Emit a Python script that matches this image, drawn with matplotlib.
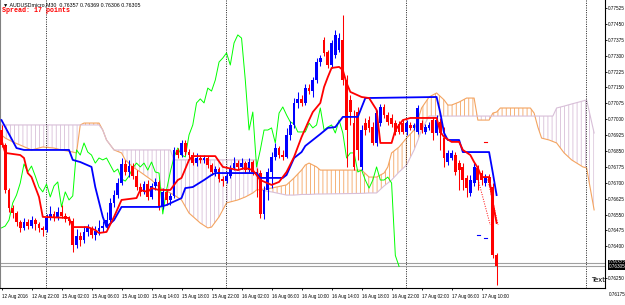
import matplotlib.pyplot as plt
import matplotlib.transforms as mtransforms
from matplotlib import font_manager
import numpy as np

# AUDUSDmicro M30, barra 0 = 12 Aug 2016 18:00
opens = [
    0.76949, 0.76878, 0.76666, 0.76581, 0.76557, 0.76515, 0.76487, 0.76515, 0.76496, 0.76524,
    0.76506, 0.76487, 0.76477, 0.76534, 0.76553, 0.76534, 0.76562, 0.76543, 0.76529, 0.76520,
    0.76406, 0.76449, 0.76430, 0.76468, 0.76487, 0.76454, 0.76472, 0.76487, 0.76496, 0.76524,
    0.76605, 0.76642, 0.76699, 0.76789, 0.76751, 0.76779, 0.76732, 0.76680, 0.76657, 0.76694,
    0.76633, 0.76685, 0.76704, 0.76586, 0.76657, 0.76619, 0.76638, 0.76855, 0.76831, 0.76888,
    0.76845, 0.76831, 0.76793, 0.76817, 0.76808, 0.76817, 0.76784, 0.76751, 0.76765, 0.76718,
    0.76708, 0.76732, 0.76770, 0.76793, 0.76775, 0.76793, 0.76760, 0.76798, 0.76751, 0.76746,
    0.76553, 0.76666, 0.76751, 0.76822, 0.76864, 0.76831, 0.76822, 0.76926, 0.76973, 0.77077,
    0.77096, 0.77077, 0.77147, 0.77133, 0.77185, 0.77270, 0.77374, 0.77317, 0.77256, 0.77303,
    0.77327, 0.77374, 0.77185, 0.77091, 0.76982, 0.77034, 0.76775, 0.76982, 0.76996, 0.76963,
    0.76888, 0.76982, 0.77058, 0.77020, 0.77006, 0.76982, 0.76978, 0.76982, 0.76940, 0.76973,
    0.76959, 0.76940, 0.76982, 0.76940, 0.76959, 0.76996, 0.76935, 0.76987, 0.76911, 0.76798,
    0.76817, 0.76831, 0.76793, 0.76775, 0.76723, 0.76652, 0.76699, 0.76770, 0.76746, 0.76699,
    0.76727, 0.76680, 0.76357]
closes = [
    0.76878, 0.76666, 0.76581, 0.76557, 0.76515, 0.76487, 0.76515, 0.76496, 0.76524, 0.76506,
    0.76487, 0.76477, 0.76534, 0.76553, 0.76534, 0.76562, 0.76543, 0.76529, 0.76520, 0.76406,
    0.76449, 0.76430, 0.76468, 0.76487, 0.76454, 0.76472, 0.76487, 0.76496, 0.76524, 0.76605,
    0.76642, 0.76699, 0.76789, 0.76751, 0.76779, 0.76732, 0.76680, 0.76657, 0.76694, 0.76633,
    0.76685, 0.76704, 0.76586, 0.76657, 0.76619, 0.76638, 0.76855, 0.76831, 0.76888, 0.76845,
    0.76831, 0.76793, 0.76817, 0.76808, 0.76817, 0.76784, 0.76751, 0.76765, 0.76718, 0.76708,
    0.76732, 0.76770, 0.76793, 0.76775, 0.76793, 0.76760, 0.76798, 0.76751, 0.76746, 0.76553,
    0.76666, 0.76751, 0.76822, 0.76864, 0.76831, 0.76822, 0.76926, 0.76973, 0.77077, 0.77096,
    0.77077, 0.77147, 0.77133, 0.77185, 0.77270, 0.77289, 0.77313, 0.77256, 0.77360, 0.77398,
    0.77383, 0.77185, 0.76949, 0.77034, 0.76775, 0.76855, 0.76949, 0.76949, 0.76959, 0.76888,
    0.77029, 0.77058, 0.77020, 0.76987, 0.76978, 0.76940, 0.76940, 0.76940, 0.76982, 0.76959,
    0.76973, 0.77053, 0.76949, 0.76963, 0.76973, 0.76935, 0.76996, 0.76935, 0.76817, 0.76841,
    0.76841, 0.76751, 0.76760, 0.76713, 0.76675, 0.76713, 0.76775, 0.76713, 0.76713, 0.76727,
    0.76699, 0.76357, 0.76305]
highs = [
    0.76973, 0.76888, 0.76675, 0.76595, 0.76567, 0.76524, 0.76534, 0.76529, 0.76543, 0.76534,
    0.76515, 0.76496, 0.76553, 0.76590, 0.76567, 0.76586, 0.76595, 0.76557, 0.76543, 0.76534,
    0.76482, 0.76468, 0.76496, 0.76506, 0.76496, 0.76496, 0.76524, 0.76520, 0.76562, 0.76628,
    0.76666, 0.76723, 0.76817, 0.76808, 0.76808, 0.76793, 0.76760, 0.76699, 0.76708, 0.76713,
    0.76699, 0.76723, 0.76713, 0.76675, 0.76666, 0.76652, 0.76869, 0.76864, 0.76902, 0.76902,
    0.76860, 0.76845, 0.76841, 0.76831, 0.76831, 0.76826, 0.76793, 0.76779, 0.76775, 0.76732,
    0.76751, 0.76784, 0.76822, 0.76808, 0.76817, 0.76803, 0.76817, 0.76808, 0.76770, 0.76760,
    0.76685, 0.76770, 0.76845, 0.76888, 0.76874, 0.76855, 0.76959, 0.76992, 0.77100, 0.77129,
    0.77114, 0.77166, 0.77166, 0.77199, 0.77289, 0.77303, 0.77388, 0.77327, 0.77374, 0.77421,
    0.77407, 0.77492, 0.77209, 0.77114, 0.77044, 0.77058, 0.76973, 0.77006, 0.77015, 0.76987,
    0.77044, 0.77072, 0.77072, 0.77034, 0.77025, 0.76996, 0.76992, 0.76996, 0.76996, 0.76987,
    0.76982, 0.77067, 0.76996, 0.76978, 0.76987, 0.77011, 0.77020, 0.77006, 0.76963, 0.76855,
    0.76855, 0.76845, 0.76808, 0.76793, 0.76737, 0.76737, 0.76793, 0.76784, 0.76760, 0.76742,
    0.76742, 0.76699, 0.76369]
lows = [
    0.76869, 0.76652, 0.76562, 0.76534, 0.76496, 0.76468, 0.76477, 0.76482, 0.76487, 0.76477,
    0.76468, 0.76449, 0.76468, 0.76524, 0.76520, 0.76524, 0.76534, 0.76515, 0.76501, 0.76373,
    0.76392, 0.76402, 0.76416, 0.76449, 0.76439, 0.76430, 0.76454, 0.76468, 0.76482, 0.76515,
    0.76586, 0.76628, 0.76690, 0.76737, 0.76727, 0.76718, 0.76666, 0.76638, 0.76647, 0.76619,
    0.76624, 0.76666, 0.76572, 0.76576, 0.76595, 0.76595, 0.76628, 0.76817, 0.76822, 0.76831,
    0.76817, 0.76784, 0.76779, 0.76793, 0.76793, 0.76770, 0.76737, 0.76732, 0.76704, 0.76685,
    0.76699, 0.76723, 0.76760, 0.76760, 0.76765, 0.76746, 0.76751, 0.76737, 0.76633, 0.76534,
    0.76529, 0.76619, 0.76675, 0.76808, 0.76817, 0.76808, 0.76817, 0.76902, 0.76959, 0.77053,
    0.77062, 0.77067, 0.77119, 0.77105, 0.77171, 0.77251, 0.77298, 0.77242, 0.77242, 0.77289,
    0.77317, 0.77162, 0.76775, 0.76973, 0.76760, 0.76808, 0.76760, 0.76926, 0.76940, 0.76878,
    0.76874, 0.76968, 0.77006, 0.76973, 0.76963, 0.76926, 0.76930, 0.76930, 0.76926, 0.76949,
    0.76949, 0.76930, 0.76935, 0.76930, 0.76949, 0.76902, 0.76926, 0.76855, 0.76775, 0.76784,
    0.76808, 0.76737, 0.76666, 0.76666, 0.76633, 0.76638, 0.76685, 0.76666, 0.76690, 0.76685,
    0.76685, 0.76345, 0.76218]

# ichimoku: tenkan (rojo), kijun (azul), nube (senkou A / B), chikou = cierre desplazado 26
tenkan_bars = [0, 1, 5, 6, 7, 8, 10, 11, 18, 19, 23, 25, 26, 28, 30, 32, 36, 37, 39, 40,
               42, 45, 47, 48, 50, 51, 57, 59, 63, 65, 67, 69, 72, 74, 76, 78, 80, 82, 83, 85,
               86, 87, 88, 90, 91, 92, 93, 96, 98, 100, 101, 104, 105, 107, 109, 116, 117, 118, 120, 122,
               123, 125, 126, 127, 128, 130, 131, 132]
tenkan = [0.76902, 0.76841, 0.76831, 0.76817, 0.76746, 0.76727, 0.76633, 0.76539, 0.76534, 0.76491,
          0.76491, 0.76477, 0.76463, 0.76468, 0.76539, 0.76619, 0.76628, 0.76666, 0.76657, 0.76675,
          0.76666, 0.76666, 0.76713, 0.76723, 0.76808, 0.76826, 0.76826, 0.76775, 0.76760, 0.76770,
          0.76760, 0.76713, 0.76690, 0.76704, 0.76751, 0.76822, 0.76916, 0.76996, 0.77034, 0.77077,
          0.77152, 0.77199, 0.77242, 0.77247, 0.77232, 0.77171, 0.77129, 0.77105, 0.77100, 0.77044,
          0.76888, 0.76888, 0.76949, 0.76996, 0.77006, 0.77006, 0.76940, 0.76916, 0.76893, 0.76893,
          0.76855, 0.76831, 0.76798, 0.76770, 0.76727, 0.76727, 0.76605, 0.76510]
kijun_bars = [0, 4, 6, 18, 19, 21, 24, 25, 27, 28, 30, 32, 42, 44, 48, 49, 51, 54, 56, 57,
              68, 69, 75, 76, 78, 80, 81, 83, 85, 87, 89, 91, 95, 97, 116, 117, 118, 119, 122, 123,
              130, 131, 132]
kijun = [0.76996, 0.76864, 0.76855, 0.76855, 0.76808, 0.76798, 0.76775, 0.76680, 0.76539, 0.76491,
         0.76524, 0.76586, 0.76586, 0.76595, 0.76628, 0.76675, 0.76680, 0.76713, 0.76737, 0.76746,
         0.76746, 0.76723, 0.76723, 0.76737, 0.76817, 0.76845, 0.76874, 0.76902, 0.76930, 0.76959,
         0.76963, 0.77011, 0.77011, 0.77100, 0.77105, 0.77029, 0.76935, 0.76902, 0.76902, 0.76845,
         0.76845, 0.76746, 0.76642]
cloud_bars = [0, 1, 3, 5, 8, 11, 14, 16, 19, 20, 21, 22, 26, 27, 28, 30, 32, 33, 35, 37,
              40, 42, 45, 46, 48, 50, 53, 55, 56, 58, 60, 63, 65, 67, 68, 69, 72, 76, 78, 80,
              81, 82, 84, 85, 96, 98, 100, 102, 103, 104, 106, 108, 110, 111, 112, 114, 116, 118, 119, 120,
              122, 124, 126, 127, 130, 131, 132, 133, 141, 142, 143, 144, 146, 147, 148, 150, 152, 155, 156, 158]
span_a = [0.76926, 0.76911, 0.76893, 0.76878, 0.76855, 0.76869, 0.76864, 0.76855, 0.76845, 0.76841,
          0.76973, 0.76982, 0.76982, 0.76949, 0.76902, 0.76855, 0.76841, 0.76808, 0.76775, 0.76751,
          0.76713, 0.76680, 0.76652, 0.76642, 0.76619, 0.76557, 0.76510, 0.76487, 0.76491, 0.76539,
          0.76605, 0.76619, 0.76633, 0.76652, 0.76666, 0.76668, 0.76675, 0.76690, 0.76723, 0.76760,
          0.76784, 0.76793, 0.76775, 0.76760, 0.76760, 0.76727, 0.76727, 0.76746, 0.76775, 0.76841,
          0.76869, 0.76911, 0.76949, 0.76996, 0.77053, 0.77105, 0.77124, 0.77091, 0.77067, 0.77067,
          0.77081, 0.77100, 0.77100, 0.76996, 0.76996, 0.77029, 0.77034, 0.77053, 0.77053, 0.77029,
          0.76963, 0.76911, 0.76902, 0.76895, 0.76888, 0.76841, 0.76808, 0.76775, 0.76770, 0.76572]
span_b = [0.76973, 0.76973, 0.76973, 0.76973, 0.76973, 0.76973, 0.76973, 0.76973, 0.76973, 0.76973,
          0.76973, 0.76973, 0.76973, 0.76949, 0.76902, 0.76855, 0.76855, 0.76855, 0.76855, 0.76855,
          0.76855, 0.76855, 0.76855, 0.76808, 0.76808, 0.76808, 0.76808, 0.76808, 0.76808, 0.76808,
          0.76808, 0.76808, 0.76808, 0.76808, 0.76808, 0.76666, 0.76657, 0.76642, 0.76642, 0.76645,
          0.76645, 0.76645, 0.76647, 0.76647, 0.76650, 0.76652, 0.76652, 0.76685, 0.76699, 0.76713,
          0.76751, 0.76784, 0.76855, 0.76900, 0.76949, 0.77015, 0.77015, 0.77015, 0.77015, 0.77015,
          0.77015, 0.77015, 0.77015, 0.77015, 0.77015, 0.77015, 0.77015, 0.77015, 0.77015, 0.77015,
          0.77015, 0.77015, 0.77015, 0.77015, 0.77053, 0.77062, 0.77072, 0.77086, 0.77091, 0.76935]
chikou_shift = 26

# otros objetos del grafico
bid = 0.76305
ask = 0.76322
separator_bars = [12, 60, 108, 156]
dash_bars = [[128.7, 129.5], [126.8, 127.6], [128.7, 129.5]]
dash_prices = [0.76893, 0.76454, 0.76439]
dash_colors = ['red', 'blue', 'blue']
dotted_bars = [[127.1, 130.3], [129.5, 132.4]]
dotted_prices = [[0.76713, 0.76501], [0.76727, 0.76501]]

time_bars = [0, 8, 16, 24, 32, 40, 48, 56, 64, 72, 80, 88, 96, 104, 112, 120, 128]
time_labels = ['12 Aug 2016', '12 Aug 22:00', '15 Aug 02:00', '15 Aug 06:00', '15 Aug 10:00',
               '15 Aug 14:00', '15 Aug 18:00', '15 Aug 22:00', '16 Aug 02:00', '16 Aug 06:00',
               '16 Aug 10:00', '16 Aug 14:00', '16 Aug 18:00', '16 Aug 22:00', '17 Aug 02:00',
               '17 Aug 06:00', '17 Aug 10:00']
price_levels = [0.76250, 0.76400, 0.76475, 0.76550, 0.76625, 0.76700, 0.76775, 0.76850,
                0.76925, 0.77000, 0.77075, 0.77150, 0.77225, 0.77300, 0.77375, 0.77450, 0.77525]
bottom_level = 0.76175

names = {f.name for f in font_manager.fontManager.ttflist}
if 'Liberation Sans Narrow' in names:
    small_font, small_size = 'Liberation Sans Narrow', 3.9
else:
    small_font, small_size = 'Liberation Sans', 3.3

plt.rcParams['hatch.linewidth'] = 0.6

fig = plt.figure(figsize=(6.25, 3.05), dpi=100)
ax = fig.add_axes([0.0, 17 / 305, 605 / 625, 288 / 305])
ax.set_xlim(-0.4, 160.9)
ax.set_ylim(0.762034, 0.775628)

# nube con rayas verticales
ca = np.array(span_a)
cb = np.array(span_b)
cx = np.array(cloud_bars)
ax.fill_between(cx, ca, cb, where=ca >= cb, interpolate=True, facecolor='none',
                edgecolor='#F4A460', hatch='||||', lw=0, zorder=1)
ax.fill_between(cx, ca, cb, where=ca < cb, interpolate=True, facecolor='none',
                edgecolor='#D8BFD8', hatch='||||', lw=0, zorder=1)
ax.plot(cx, ca, color='#F4A460', lw=0.8, zorder=1.2)
ax.plot(cx, cb, color='#D8BFD8', lw=0.8, zorder=1.2)

for b in separator_bars:
    ax.axvline(b - 0.2, color='black', lw=0.6, ls=(0, (1.2, 1.6)), zorder=1.5)

ax.axhline(ask, color='#A0A0A0', lw=0.8, zorder=1.6)
ax.axhline(bid, color='#A0A0A0', lw=0.8, zorder=1.6)

# chikou
c = np.array(closes)
bars = np.arange(len(c))
ax.plot(bars[chikou_shift:] - chikou_shift, c[chikou_shift:], color='#00FF00', lw=0.7, zorder=2)

# velas
o = np.array(opens)
h = np.array(highs)
l = np.array(lows)
col = np.where(c >= o, '#0000FF', '#FF0000')
ax.vlines(bars, l, h, colors=col, lw=0.75, zorder=3)
ax.bar(bars, np.maximum(np.abs(c - o), 0.00003), bottom=np.minimum(o, c), width=0.75,
       color=col, lw=0, zorder=3)

ax.plot(kijun_bars, kijun, color='#0000FF', lw=1.3, zorder=4)
ax.plot(tenkan_bars, tenkan, color='#FF0000', lw=1.3, zorder=4)

for xb, yp, cl in zip(dash_bars, dash_prices, dash_colors):
    ax.plot(xb, [yp, yp], color=cl, lw=0.8, zorder=4)
for xb, yp in zip(dotted_bars, dotted_prices):
    ax.plot(xb, yp, color='red', lw=0.7, ls=(0, (1, 1.5)), zorder=4)

# ejes estilo MT4
ax.spines['top'].set_visible(False)
ax.spines['left'].set_color('#808080')
ax.spines['right'].set_color('black')
ax.spines['bottom'].set_color('black')
for s in ['left', 'right', 'bottom']:
    ax.spines[s].set_linewidth(0.8)

ax.yaxis.tick_right()
ax.set_yticks(price_levels)
ax.set_yticklabels(['%.5f' % v for v in price_levels], fontsize=small_size, family=small_font)
ax.tick_params(axis='y', length=1.5, width=0.6, pad=0.8)
ax.set_xticks(time_bars)
ax.set_xticklabels(time_labels, fontsize=small_size, family=small_font)
for lbl in ax.get_xticklabels():
    lbl.set_ha('left')
ax.tick_params(axis='x', length=1.5, width=0.6, pad=2.5)

trans = mtransforms.blended_transform_factory(ax.transAxes, ax.transData)
ax.text(1.006, bottom_level, '%.5f' % bottom_level, transform=trans, fontsize=small_size,
        family=small_font, va='center', ha='left', clip_on=False)
for val in [ask, bid]:
    ax.text(1.006, val, '%.5f' % val, transform=trans, fontsize=small_size, family=small_font,
            color='white', va='center', ha='left', clip_on=False,
            bbox=dict(facecolor='black', edgecolor='none', pad=0.4))

ax.text(157.3, 0.76241, 'Text', fontsize=5, va='center', ha='left', clip_on=False, zorder=5)

fig.text(3 / 625, 1 - 4.5 / 305, '\u25bc AUDUSDmicro,M30  0.76357 0.76369 0.76306 0.76305',
         fontsize=small_size + 0.5, family=[small_font, 'DejaVu Sans'], va='center')
fig.text(2 / 625, 1 - 11 / 305, 'Spread: 17 points', color='red', fontsize=4.8,
         fontweight='bold', family='Liberation Mono', va='center')

fig.savefig('out.png', dpi=100, facecolor='white')
